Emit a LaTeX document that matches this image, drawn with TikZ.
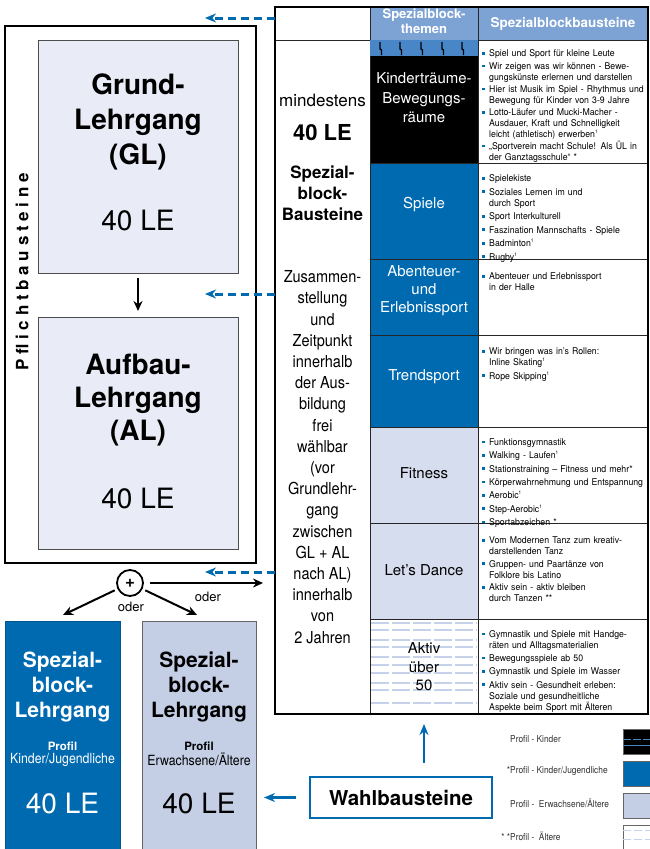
\documentclass[tikz,border=0pt]{standalone}
\usepackage{fontspec}
\setmainfont{TeX Gyre Heros}
\newfontfamily\condf[FakeStretch=0.88]{TeX Gyre Heros}
\newfontfamily\listf[FakeStretch=0.94]{TeX Gyre Heros}
\newfontfamily\spacedf[LetterSpace=28]{TeX Gyre Heros}
\usetikzlibrary{arrows.meta}
\definecolor{dblue}{RGB}{0,106,177}
\definecolor{hblue}{RGB}{125,162,212}
\definecolor{sblue}{RGB}{72,134,199}
\definecolor{lblue}{RGB}{196,206,229}
\definecolor{fblue}{RGB}{214,221,238}
\definecolor{glfill}{RGB}{233,236,247}
\definecolor{dashl}{RGB}{198,210,234}
\newcommand\fs[2]{\fontsize{#1}{#2}\selectfont}
\newcommand\bitem[1]{\par\hangindent=8pt\hangafter=1\noindent\makebox[8pt][l]{\hspace{1pt}\textcolor{dblue}{\rule[2.2pt]{2.6pt}{2.6pt}}}#1\par}
\newcommand\one{\textsuperscript{\fontsize{5}{5}\selectfont 1}}
\tikzset{
  cell/.style={draw=black!85, line width=0.8pt, anchor=north west, inner sep=0pt, outer sep=0pt},
  box/.style={anchor=north west, inner sep=0pt, outer sep=0pt},
  txt/.style={align=center, inner sep=0pt},
  blist/.style={anchor=north west, inner sep=0pt, text width=166pt, align=left, font=\listf\fs{9.3}{11}},
  karrow/.style={-{Stealth[length=10pt,width=9pt]}, line width=2pt, black},
  dasharrow/.style={-{Stealth[length=11pt,width=9pt]}, line width=3pt, dblue, dash pattern=on 8pt off 5pt},
  barrow/.style={-{Stealth[length=11pt,width=9pt]}, line width=2.8pt, dblue},
  legtxt/.style={anchor=west, inner sep=0pt, font=\condf\fs{9.5}{10}, text=black!80},
  swatch/.style={box, draw=black!60, line width=0.8pt, minimum width=30pt, minimum height=25pt}
}
\begin{document}
\begin{tikzpicture}[x=1pt,y=-1pt]
\useasboundingbox (0,0) rectangle (649,849);
\fill[white] (0,0) rectangle (649,849);

% ---------- left: Pflichtbausteine ----------
\node[box, draw, line width=1.5pt, minimum width=251pt, minimum height=537pt] (pflicht) at (5,26) {};
\node[rotate=90, inner sep=0pt, font=\spacedf\bfseries\fs{17}{17}] (ptext) at (22,272) {Pflichtbausteine};
\node[box, draw=black!70, line width=1pt, fill=glfill, minimum width=200pt, minimum height=233pt] (gl) at (38,40) {};
\node[box, draw=black!70, line width=1pt, fill=glfill, minimum width=200pt, minimum height=232pt] (al) at (38,317) {};
\node[txt, font=\bfseries\fs{28}{35}] (glt) at (138,122) {Grund-\\Lehrgang\\(GL)};
\node[txt, font=\fs{28}{30}] (gln) at (138,220) {40 LE};
\node[txt, font=\bfseries\fs{28}{33}] (alt) at (138,400) {Aufbau-\\Lehrgang\\(AL)};
\node[txt, font=\fs{28}{30}] (aln) at (138,498) {40 LE};
\draw[karrow, shorten <=5pt, shorten >=6pt] (gl.south) -- (al.north);

% ---------- plus and oder ----------
\node[circle, draw, line width=1.8pt, minimum size=26pt, inner sep=0pt, font=\bfseries\fs{17}{17}] (plus) at (130,583) {+};
\coordinate (pr) at (263,583);
\coordinate (pl) at (63,615);
\coordinate (pm) at (197,615);
\draw[karrow, shorten <=6pt] (plus) -- (pr);
\draw[karrow, shorten <=3pt] (plus) -- (pl);
\draw[karrow, shorten <=3pt] (plus) -- (pm);
\node[txt, font=\fs{13}{13}] (oder1) at (208,597) {oder};
\node[txt, font=\fs{13}{13}] (oder2) at (131,607) {oder};

% ---------- Spezialblock-Lehrgang boxes ----------
\node[box, fill=dblue, draw=dblue!80!black, line width=0.8pt, minimum width=115pt, minimum height=234pt] (sb1) at (5,621) {};
\node[box, fill=lblue, draw=black!60, line width=0.8pt, minimum width=114pt, minimum height=234pt] (sb2) at (142,621) {};
\node[txt, text=white, font=\bfseries\fs{21}{25}] (sb1t) at (62.5,687) {Spezial-\\block-\\Lehrgang};
\node[txt, text=white] (sb1p) at (62.5,754) {{\bfseries\fs{11.5}{13}Profil}\\[1pt]{\condf\fs{14}{14}Kinder/Jugendliche}};
\node[txt, text=white, font=\fs{28}{30}] (sb1n) at (62.5,803) {40 LE};
\node[txt, font=\bfseries\fs{21}{25}] (sb2t) at (199,687) {Spezial-\\block-\\Lehrgang};
\node[txt] (sb2p) at (199,754) {{\bfseries\fs{11.5}{13}Profil}\\[1pt]{\condf\fs{14}{14}Erwachsene/Ältere}};
\node[txt, font=\fs{28}{30}] (sb2n) at (199,803) {40 LE};

% ---------- table ----------
\node[cell, fill=white, minimum width=95pt, minimum height=33pt] (hl) at (275,7) {};
\node[cell, fill=hblue, minimum width=108pt, minimum height=33pt] (h2) at (370,7) {};
\node[cell, fill=hblue, minimum width=170pt, minimum height=33pt] (h3) at (478,7) {};
\node[txt, text=white, font=\bfseries\fs{13}{14.5}] (h2t) at (424,21) {Spezialblock-\\themen};
\node[txt, text=white, font=\bfseries\fs{13.5}{14}] (h3t) at (563,24) {Spezialblockbausteine};

\node[cell, fill=white, minimum width=95pt, minimum height=674pt] (lc) at (275,40) {};

\node[cell, fill=black, minimum width=108pt, minimum height=123pt] (r1) at (370,40) {};
\node[cell, fill=dblue, minimum width=108pt, minimum height=96pt] (r2) at (370,163) {};
\node[cell, fill=dblue, minimum width=108pt, minimum height=76pt] (r3) at (370,259) {};
\node[cell, fill=dblue, minimum width=108pt, minimum height=92pt] (r4) at (370,335) {};
\node[cell, fill=fblue, minimum width=108pt, minimum height=96pt] (r5) at (370,427) {};
\node[cell, fill=fblue, minimum width=108pt, minimum height=96pt] (r6) at (370,523) {};
\node[cell, fill=white, minimum width=108pt, minimum height=95pt] (r7) at (370,619) {};

% patterns in Kinder and Aktiv cells
\fill[sblue] (370.4,40.4) rectangle (477.6,56);
\foreach \xx in {380,400,421,442,462}
  \draw[line width=1.3pt] (\xx,42) -- (\xx,49) -- (\xx+1.5,50) -- (\xx+1.5,55);
\foreach \yy in {623,630,640,647,657,665,673,683,690,703}
  \draw[dashl, line width=1.2pt, dash pattern=on 18pt off 3pt] (371,\yy) -- (477,\yy);

\node[cell, fill=white, minimum width=170pt, minimum height=123pt] (c1) at (478,40) {};
\node[cell, fill=white, minimum width=170pt, minimum height=96pt] (c2) at (478,163) {};
\node[cell, fill=white, minimum width=170pt, minimum height=76pt] (c3) at (478,259) {};
\node[cell, fill=white, minimum width=170pt, minimum height=92pt] (c4) at (478,335) {};
\node[cell, fill=white, minimum width=170pt, minimum height=96pt] (c5) at (478,427) {};
\node[cell, fill=white, minimum width=170pt, minimum height=96pt] (c6) at (478,523) {};
\node[cell, fill=white, minimum width=170pt, minimum height=95pt] (c7) at (478,619) {};
\draw[line width=1.6pt] (hl.north west) rectangle (c7.south east);

% left column texts
\node[txt, font=\fs{17}{20}] (tmin) at (322.5,100) {mindestens};
\node[txt, font=\bfseries\fs{22}{24}] (t40) at (322.5,133) {40 LE};
\node[txt, font=\bfseries\fs{17}{21}] (tsb) at (322.5,193) {Spezial-\\block-\\Bausteine};
\node[txt, font=\condf\fs{16.5}{21.2}] (tzus) at (322.5,457) {Zusammen-\\stellung\\und\\Zeitpunkt\\innerhalb\\der Aus-\\bildung\\frei\\wählbar\\(vor\\Grundlehr-\\gang\\zwischen\\GL + AL\\nach AL)\\innerhalb\\von\\2 Jahren};

% theme texts
\node[txt, text=white, font=\fs{15}{19.5}] (t1) at (424,98) {Kinderträume-\\Bewegungs-\\räume};
\node[txt, text=white, font=\fs{15}{18}] (t2) at (424,205) {Spiele};
\node[txt, text=white, font=\fs{15}{18}] (t3) at (424,291) {Abenteuer-\\und\\Erlebnissport};
\node[txt, text=white, font=\fs{15}{18}] (t4) at (424,377) {Trendsport};
\node[txt, font=\fs{15}{18}] (t5) at (424,473) {Fitness};
\node[txt, font=\fs{15}{18}] (t6) at (424,570) {Let’s Dance};
\node[txt, font=\fs{15}{18.5}] (t7) at (424,667) {Aktiv\\über\\50};

% bullet lists
\node[blist, font=\listf\fs{9.3}{10.6}] (l1) at (481,44) {\setlength{\parskip}{2pt}%
\bitem{Spiel und Sport für kleine Leute}
\bitem{Wir zeigen was wir können - Bewe-\newline gungskünste erlernen und darstellen}
\bitem{Hier ist Musik im Spiel - Rhythmus und\newline Bewegung für Kinder von 3-9 Jahre}
\bitem{Lotto-Läufer und Mucki-Macher -\newline Ausdauer, Kraft und Schnelligkeit\newline leicht (athletisch) erwerben\one}
\bitem{„Sportverein macht Schule! Als ÜL in\newline der Ganztagsschule“ *}};
\node[blist] (l2) at (481,168) {\setlength{\parskip}{2.5pt}%
\bitem{Spielekiste}
\bitem{Soziales Lernen im und\newline durch Sport}
\bitem{Sport Interkulturell}
\bitem{Faszination Mannschafts - Spiele}
\bitem{Badminton\one}
\bitem{Rugby\one}};
\node[blist] (l3) at (481,266) {\setlength{\parskip}{2.5pt}%
\bitem{Abenteuer und Erlebnissport\newline in der Halle}};
\node[blist] (l4) at (481,341) {\setlength{\parskip}{2.5pt}%
\bitem{Wir bringen was in’s Rollen:\newline Inline Skating\one}
\bitem{Rope Skipping\one}};
\node[blist] (l5) at (481,432) {\setlength{\parskip}{2.3pt}%
\bitem{Funktionsgymnastik}
\bitem{Walking - Laufen\one}
\bitem{Stationstraining – Fitness und mehr*}
\bitem{Körperwahrnehmung und Entspannung}
\bitem{Aerobic\one}
\bitem{Step-Aerobic\one}
\bitem{Sportabzeichen *}};
\node[blist] (l6) at (481,531) {\setlength{\parskip}{1.5pt}%
\bitem{Vom Modernen Tanz zum kreativ-\newline darstellenden Tanz}
\bitem{Gruppen- und Paartänze von\newline Folklore bis Latino}
\bitem{Aktiv sein - aktiv bleiben\newline durch Tanzen **}};
\node[blist] (l7) at (481,624) {\setlength{\parskip}{2.2pt}%
\bitem{Gymnastik und Spiele mit Handge-\newline räten und Alltagsmaterialien}
\bitem{Bewegungsspiele ab 50}
\bitem{Gymnastik und Spiele im Wasser}
\bitem{Aktiv sein - Gesundheit erleben:\newline Soziale und gesundheitliche\newline Aspekte beim Sport mit Älteren}};

% dashed arrows from table to left
\coordinate (d1) at (205,18);
\coordinate (d2) at (205,294);
\coordinate (d3) at (205,572);
\draw[dasharrow] (d1 -| hl.west) -- (d1);
\draw[dasharrow] (d2 -| lc.west) -- (d2);
\draw[dasharrow] (d3 -| lc.west) -- (d3);

% ---------- Wahlbausteine ----------
\node[box, draw=dblue, line width=2pt, fill=white, minimum width=182pt, minimum height=41pt] (wahl) at (310,777) {};
\node[txt, font=\bfseries\fs{20.5}{22}] (wahlt) at (wahl.center) {Wahlbausteine};
\draw[barrow, shorten <=14pt, shorten >=8pt] (wahl.west) -- (wahl.west -| sb2.east);
\draw[barrow, shorten <=14pt, shorten >=10pt] (wahl.north -| r7.south) -- (r7.south);

% ---------- legend ----------
\node[legtxt] (lg1) at (510,739) {Profil - Kinder};
\node[legtxt] (lg2) at (510,771) {\llap{*}Profil - Kinder/Jugendliche};
\node[legtxt] (lg3) at (510,803) {Profil -\ \ Erwachsene/Ältere};
\node[legtxt] (lg4) at (510,836) {\llap{* *}Profil -\ \ Ältere};
\node[swatch, fill=black] (s1) at (623,729) {};
\draw[sblue, line width=1pt, dash pattern=on 8pt off 2pt] ([yshift=-10pt]s1.north west) -- ([yshift=-10pt]s1.north east);
\draw[sblue, line width=1pt] ([yshift=-16pt]s1.north west) -- ([yshift=-16pt]s1.north east);
\node[swatch, fill=dblue] (s2) at (623,761) {};
\node[swatch, fill=lblue] (s3) at (623,793) {};
\node[swatch, fill=white, minimum height=30pt] (s4) at (623,825) {};
\draw[dashl, line width=1pt, dash pattern=on 8pt off 3pt] ([yshift=-5pt]s4.north west) -- ([yshift=-5pt]s4.north east);
\draw[dashl, line width=1pt, dash pattern=on 8pt off 3pt] ([yshift=-14pt]s4.north west) -- ([yshift=-14pt]s4.north east);
\end{tikzpicture}
\end{document}
